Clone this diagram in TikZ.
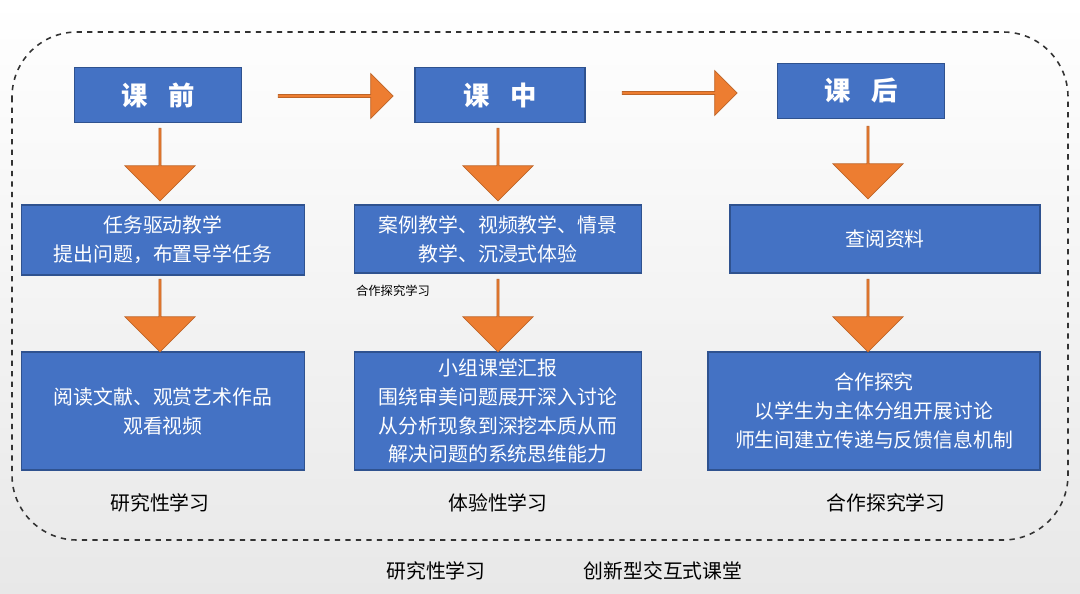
\documentclass[tikz,border=0pt]{standalone}
\usepackage{fontspec}
\newfontfamily\cjk{Noto Sans CJK SC}
\usetikzlibrary{shapes.arrows}
\definecolor{bx}{HTML}{4472C4}
\definecolor{bxd}{HTML}{2F528F}
\definecolor{org}{HTML}{ED7D31}
\tikzset{
 hd/.style={draw=bxd,line width=0.8pt,fill=bx,text=white,font=\cjk\fontsize{15}{18}\selectfont\bfseries,minimum height=1.1cm,inner sep=0pt},
 bb/.style={draw=bxd,line width=0.8pt,fill=bx,text=white,font=\cjk\fontsize{11.3}{16.5}\selectfont,align=center,inner sep=0pt},
 arr/.style={single arrow,fill=org,draw=org!80!black,line width=0.4pt,inner sep=0pt,single arrow head extend=0.22cm,minimum height=1.45cm,minimum width=1.4cm},
 lb/.style={font=\cjk\fontsize{11.3}{14}\selectfont}
}
\begin{document}
\begin{tikzpicture}[x=0.02cm,y=-0.02cm]
\useasboundingbox (0,0) rectangle (1080,594);
\shade[top color=white,bottom color=black!9] (0,0) rectangle (1080,594);
\draw[dashed,line width=0.9pt,rounded corners=1.3cm,black!80] (12,32) rectangle (1068,540);
\node[hd,minimum width=3.34cm] (h1) at (158,95) {课\hspace{0.8em}前};
\node[hd,minimum width=3.4cm] (h2) at (500,95) {课\hspace{0.8em}中};
\node[hd,minimum width=3.34cm] (h3) at (861,91) {课\hspace{0.8em}后};
\node[arr,minimum height=2.3cm,minimum width=0.9cm,single arrow head extend=0.1cm] (r1) at (335,96) {};
\node[arr,minimum height=2.3cm,minimum width=0.9cm,single arrow head extend=0.1cm] (r2) at (679,93) {};
\node[bb,minimum width=5.66cm,minimum height=1.4cm] (a1) at (163,240) {任务驱动教学\\提出问题，布置导学任务};
\node[bb,minimum width=5.74cm,minimum height=1.36cm] (a2) at (498,239) {案例教学、视频教学、情景\\教学、沉浸式体验};
\node[bb,minimum width=6.2cm,minimum height=1.36cm] (a3) at (885,239) {查阅资料};
\node[bb,minimum width=5.66cm,minimum height=2.36cm] (b1) at (163,411) {阅读文献、观赏艺术作品\\观看视频};
\node[bb,minimum width=5.74cm,minimum height=2.36cm] (b2) at (498,411) {小组课堂汇报\\围绕审美问题展开深入讨论\\从分析现象到深挖本质从而\\解决问题的系统思维能力};
\node[bb,minimum width=6.64cm,minimum height=2.36cm] (b3) at (874,411) {合作探究\\以学生为主体分组开展讨论\\师生间建立传递与反馈信息机制};
\node[arr,rotate=-90] (d1) at (160,164) {};
\node[arr,rotate=-90] (d2) at (498,164) {};
\node[arr,rotate=-90] (d3) at (868,162) {};
\node[arr,rotate=-90] (e1) at (160,315) {};
\node[arr,rotate=-90] (e2) at (498,315) {};
\node[arr,rotate=-90] (e3) at (868,315) {};
\node[font=\cjk\fontsize{7}{8}\selectfont] (s) at (393,291) {合作探究学习};
\node[lb] (l1) at (160,503) {研究性学习};
\node[lb] (l2) at (498,503) {体验性学习};
\node[lb] (l3) at (886,503) {合作探究学习};
\node[lb] (m1) at (436,571) {研究性学习};
\node[lb] (m2) at (663,571) {创新型交互式课堂};
\end{tikzpicture}
\end{document}
